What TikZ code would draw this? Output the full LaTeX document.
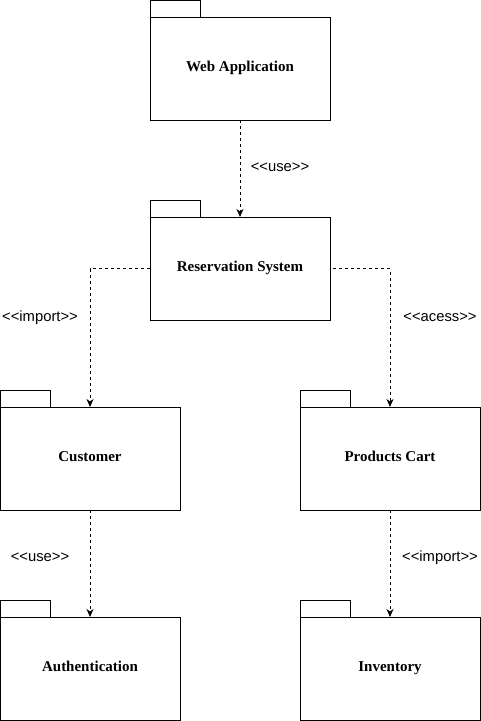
\documentclass[tikz,border=0pt]{standalone}
\usepackage{fontspec}
\setmainfont{Liberation Serif}
\newfontfamily\lsans{Liberation Sans}
\usetikzlibrary{arrows.meta}
\newcommand\stereo[1]{<\kern0pt<#1>\kern0pt>}
\tikzset{
  pkg/.style={draw, line width=1pt, minimum width=180pt, minimum height=103pt,
    inner sep=0pt, outer sep=0pt, text height=10pt, text depth=5pt,
    font=\fontsize{15}{16}\selectfont\bfseries,
    append after command={
      \pgfextra{\draw[line width=1pt] (\tikzlastnode.north west) rectangle ++(50,-17);}
    }},
  dep/.style={draw, line width=1pt, dash pattern=on 3pt off 3pt,
    -{Stealth[length=8pt,width=7pt,inset=2.5pt]}},
  lbl/.style={font=\lsans\fontsize{14.8}{16}\selectfont, inner sep=0pt}
}
\begin{document}
\begin{tikzpicture}[x=1pt,y=-1pt]
\useasboundingbox (0,0) rectangle (481,721);
\node[pkg] (web) at (240,68.5) {Web Application};
\node[pkg] (res) at (240,268.5) {Reservation System};
\node[pkg] (cust) at (90,458.5) {Customer};
\node[pkg] (cart) at (390,458.5) {Products Cart};
\node[pkg] (auth) at (90,668.5) {Authentication};
\node[pkg] (inv) at (390,668.5) {Inventory};

\draw[dep] (web.south) -- (res.north);
\draw[dep] (res.west) -| (cust.north);
\draw[dep, shorten <=3pt] (res.east) -| (cart.north);
\draw[dep] (cust.south) -- (auth.north);
\draw[dep] (cart.south) -- (inv.north);

\node[lbl] (l1) at (280,167.5) {\stereo{use}};
\node[lbl] (l2) at (40,317.5) {\stereo{import}};
\node[lbl] (l3) at (440,317.5) {\stereo{acess}};
\node[lbl] (l4) at (40,557.5) {\stereo{use}};
\node[lbl] (l5) at (440,557.5) {\stereo{import}};
\end{tikzpicture}
\end{document}
